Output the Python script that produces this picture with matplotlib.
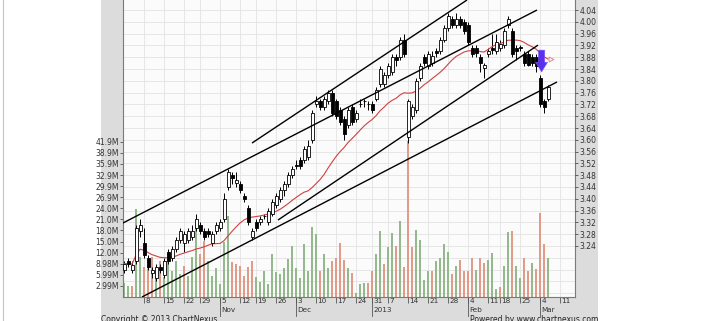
import numpy as np
import pandas as pd
import matplotlib
matplotlib.use("Agg")
import matplotlib.pyplot as plt
from matplotlib.patches import Rectangle
from matplotlib.lines import Line2D
from matplotlib.transforms import blended_transform_factory, ScaledTranslation

# daily bars, one row per week (SGX sessions, 1 Oct 2012 - 6 Mar 2013)
opens = [3.16,
         3.19, 3.16, 3.19, 3.29, 3.25,
         3.20, 3.15, 3.13, 3.17, 3.14,
         3.22, 3.20, 3.23, 3.26, 3.25,
         3.26, 3.27, 3.30, 3.31, 3.29,
         3.29, 3.25, 3.29,
         3.30, 3.33, 3.44, 3.48, 3.455,
         3.45, 3.41, 3.37, 3.27, 3.32,
         3.32, 3.34, 3.32, 3.35,
         3.38, 3.40, 3.43, 3.45, 3.48,
         3.51, 3.53, 3.53, 3.54, 3.60,
         3.72, 3.73, 3.71, 3.73, 3.76,
         3.73, 3.70, 3.67, 3.65, 3.71,
         3.67, 3.72, 3.73, 3.72,
         3.72, 3.74, 3.79, 3.79,
         3.82, 3.83, 3.88, 3.88, 3.94,
         3.61, 3.68, 3.70, 3.81, 3.88,
         3.85, 3.86, 3.90, 3.90,
         3.94, 3.98, 4.01, 3.99, 4.01,
         4.00, 3.99, 3.91, 3.91, 3.88,
         3.845, 3.89, 3.91, 3.90, 3.91,
         3.92, 3.99, 3.97, 3.91,
         3.91, 3.89, 3.89, 3.88, 3.88,
         3.81, 3.73, 3.74]
highs = [3.19,
         3.20, 3.19, 3.31, 3.33, 3.30,
         3.21, 3.17, 3.18, 3.18, 3.20,
         3.23, 3.24, 3.27, 3.30, 3.29,
         3.30, 3.31, 3.35, 3.32, 3.30,
         3.30, 3.29, 3.32,
         3.33, 3.42, 3.50, 3.49, 3.49,
         3.46, 3.42, 3.38, 3.30, 3.33,
         3.34, 3.35, 3.37, 3.40,
         3.42, 3.44, 3.46, 3.49, 3.51,
         3.53, 3.54, 3.58, 3.60, 3.70,
         3.75, 3.74, 3.75, 3.77, 3.77,
         3.74, 3.71, 3.68, 3.71, 3.72,
         3.70, 3.74, 3.74, 3.73,
         3.73, 3.78, 3.85, 3.83,
         3.86, 3.89, 3.89, 3.95, 3.96,
         3.74, 3.72, 3.81, 3.86, 3.89,
         3.90, 3.90, 3.91, 3.95,
         3.99, 4.03, 4.02, 4.03, 4.02,
         4.01, 4.00, 3.92, 3.92, 3.89,
         3.86, 3.91, 3.96, 3.96, 3.94,
         3.98, 4.02, 3.98, 3.92,
         3.92, 3.90, 3.90, 3.89, 3.89,
         3.82, 3.74, 3.785]
lows = [3.15,
        3.17, 3.15, 3.18, 3.27, 3.20,
        3.16, 3.13, 3.12, 3.15, 3.13,
        3.18, 3.19, 3.22, 3.25, 3.22,
        3.25, 3.26, 3.29, 3.28, 3.26,
        3.27, 3.24, 3.28,
        3.29, 3.32, 3.43, 3.45, 3.44,
        3.42, 3.39, 3.31, 3.26, 3.29,
        3.31, 3.33, 3.31, 3.34,
        3.37, 3.39, 3.41, 3.44, 3.47,
        3.50, 3.50, 3.52, 3.53, 3.59,
        3.71, 3.70, 3.70, 3.72, 3.68,
        3.67, 3.65, 3.60, 3.64, 3.65,
        3.66, 3.71, 3.71, 3.70,
        3.69, 3.73, 3.78, 3.78,
        3.81, 3.82, 3.85, 3.87, 3.88,
        3.59, 3.67, 3.69, 3.80, 3.85,
        3.84, 3.85, 3.88, 3.89,
        3.93, 3.97, 3.98, 3.98, 3.98,
        3.96, 3.92, 3.88, 3.88, 3.83,
        3.81, 3.88, 3.89, 3.89, 3.90,
        3.91, 3.98, 3.88, 3.87,
        3.90, 3.85, 3.85, 3.85, 3.83,
        3.71, 3.69, 3.73]
closes = [3.18,
          3.18, 3.175, 3.30, 3.31, 3.21,
          3.17, 3.16, 3.17, 3.16, 3.19,
          3.19, 3.23, 3.26, 3.29, 3.28,
          3.29, 3.29, 3.33, 3.29, 3.27,
          3.28, 3.28, 3.31,
          3.32, 3.40, 3.49, 3.47, 3.465,
          3.43, 3.40, 3.32, 3.29, 3.30,
          3.33, 3.34, 3.36, 3.39,
          3.41, 3.43, 3.45, 3.48, 3.50,
          3.51, 3.51, 3.57, 3.58, 3.69,
          3.73, 3.71, 3.74, 3.76, 3.69,
          3.68, 3.66, 3.62, 3.70, 3.66,
          3.69, 3.72, 3.73, 3.72,
          3.70, 3.77, 3.84, 3.82,
          3.85, 3.88, 3.87, 3.94, 3.89,
          3.73, 3.71, 3.80, 3.85, 3.86,
          3.89, 3.885, 3.895, 3.94,
          3.98, 4.02, 3.99, 4.01, 3.99,
          3.97, 3.93, 3.89, 3.895, 3.86,
          3.855, 3.90, 3.905, 3.93, 3.925,
          3.97, 4.01, 3.89, 3.90,
          3.91, 3.86, 3.855, 3.86, 3.85,
          3.72, 3.71, 3.78]
volumes_m = [3.7,
             3.1, 3.1, 23.8, 10.7, 8.0,
             8.5, 10.7, 6.7, 9.8, 5.3,
             12.0, 7.1, 9.8, 6.3, 8.5,
             5.8, 10.7, 20.6, 11.7, 15.2,
             9.8, 5.8, 7.7,
             3.6, 14.8, 22.0, 9.4, 9.0,
             8.5, 5.8, 8.0, 9.8, 5.3,
             4.0, 7.1, 3.6, 11.5,
             6.7, 6.3, 7.7, 10.3, 13.9,
             7.7, 5.0, 14.4, 7.1, 19.0,
             16.9, 7.1, 11.5, 7.8, 9.6,
             10.4, 14.5, 10.0, 7.8, 6.4,
             1.0, 3.4, 3.7, 3.7,
             7.0, 11.6, 17.7, 8.8,
             13.6, 17.2, 13.9, 20.4, 8.2,
             42.0, 13.6, 18.2, 15.4, 4.7,
             7.1, 7.1, 9.7, 10.5,
             14.3, 12.1, 6.3, 8.4, 10.1,
             7.1, 7.0, 10.5, 7.3, 10.6,
             9.1, 10.1, 11.8, 2.2, 2.8,
             8.5, 17.5, 17.7, 8.5,
             5.2, 10.6, 7.1, 9.3, 7.6,
             22.6, 14.3, 10.5]

# exchange holidays inside the window
holidays = ["2012-10-26", "2012-11-13", "2012-12-25", "2013-01-01",
            "2013-02-11", "2013-02-12"]
month_labels = {"2012-11-05": "Nov", "2012-12-03": "Dec", "2012-12-31": "2013",
                "2013-02-04": "Feb", "2013-03-04": "Mar"}
price_ticks = [3.24, 3.28, 3.32, 3.36, 3.40, 3.44, 3.48, 3.52, 3.56, 3.60, 3.64,
               3.68, 3.72, 3.76, 3.80, 3.84, 3.88, 3.92, 3.96, 4.00, 4.04]
grid_prices = [3.08, 3.12, 3.16, 3.20] + price_ticks
vol_tick_labels = ["2.99M", "5.99M", "8.98M", "12.0M", "15.0M", "18.0M", "21.0M",
                   "24.0M", "26.9M", "29.9M", "32.9M", "35.9M", "38.9M", "41.9M"]
vol_step_m = 2.994

# hand drawn trend lines: (bar start, price start, bar end, price end)
trend_lines = [(-0.25, 3.318, 103.25, 4.040),
               (32.0, 3.589, 85.75, 4.074),
               (38.5, 3.328, 103.5, 3.921),
               (4.5, 3.067, 108.25, 3.796)]
signal_arrow = (104.4, 3.904, 3.830)

price_lim = (3.067, 4.074)
vol_max_m = 80.2
x_lim = (-0.25, 112.75)

W, H = 705, 321
plt.rcParams["font.family"] = ["DejaVu Sans"]
fig = plt.figure(figsize=(W / 100, H / 100), dpi=100)
fig.patch.set_facecolor("white")

# grey frame round the chart
fig.add_artist(Rectangle((101 / W, 0), (598 - 101) / W, 1, transform=fig.transFigure,
                         facecolor="#dcdcdc", edgecolor="none", zorder=0))
fig.add_artist(Line2D([2.5 / W, 2.5 / W], [0, 1], transform=fig.transFigure,
                      color="#c4c4c4", lw=0.8))

ax_v = fig.add_axes([123 / W, 24 / H, 452 / W, 297 / H])
ax_v.set_facecolor("#fbfbfb")
ax_p = ax_v.twinx()

o = np.array(opens)
h = np.array(highs)
l = np.array(lows)
c = np.array(closes)
v = np.array(volumes_m)
pos = np.arange(len(c))

sessions = pd.bdate_range("2012-10-01", "2013-03-15")
sessions = sessions[~sessions.isin(pd.to_datetime(holidays))]
week_start = sessions - pd.to_timedelta(sessions.weekday, unit="D")
first_of_week = ~week_start.duplicated()
tick_pos = np.flatnonzero(first_of_week)
tick_monday = week_start[first_of_week]
keep = tick_monday >= pd.Timestamp("2012-10-08")
tick_pos = tick_pos[keep]
tick_monday = tick_monday[keep]

# volume
prev = np.concatenate([[o[0]], c[:-1]])
vol_colors = np.where(c >= prev, "#93b98c", "#e09c88")
ax_v.bar(pos, v, width=0.55, color=vol_colors, zorder=2)
ax_v.set_ylim(0, vol_max_m)
ax_v.set_xlim(*x_lim)
ax_v.set_yticks(vol_step_m * np.arange(1, len(vol_tick_labels) + 1))
ax_v.set_yticklabels(vol_tick_labels)

grid_c = "#e2e2e2"
for gp in grid_prices:
    ax_v.axhline((gp - price_lim[0]) / (price_lim[1] - price_lim[0]) * vol_max_m,
                 color=grid_c, lw=0.6, zorder=0)
ax_v.set_xticks(tick_pos)
ax_v.set_xticklabels([])
ax_v.grid(axis="x", color=grid_c, lw=0.6)
ax_v.set_axisbelow(True)

# candles
ax_p.vlines(pos, l, h, color="black", lw=0.7, zorder=3)
body_lo = np.minimum(o, c)
body_h = np.maximum(np.abs(c - o), 0.003)
ax_p.bar(pos, body_h, bottom=body_lo, width=0.75,
         color=np.where(c > o, "white", "black"), edgecolor="black", lw=0.6, zorder=4)

ma = pd.Series(c).rolling(20, min_periods=1).mean()
ax_p.plot(pos, ma, color="#d04040", lw=0.8, zorder=3)
ax_p.plot(pos[-1] + 0.7, ma.iloc[-1], marker=">", ms=3.5, mfc="none", mec="#e08a8a",
          mew=0.7, zorder=5)

for x0, y0, x1, y1 in trend_lines:
    ax_p.plot([x0, x1], [y0, y1], color="black", lw=1.0, zorder=5, solid_capstyle="butt")

ax_p.annotate("", xy=(signal_arrow[0], signal_arrow[2]),
              xytext=(signal_arrow[0], signal_arrow[1]),
              arrowprops=dict(arrowstyle="simple,head_length=0.7,head_width=0.85,tail_width=0.45",
                              fc="#5a2ff0", ec="#7a5af5", lw=0.4, shrinkA=0, shrinkB=0,
                              mutation_scale=10), zorder=6)

ax_p.set_ylim(*price_lim)
ax_p.set_xlim(*x_lim)
ax_p.set_yticks(price_ticks)
ax_p.set_yticklabels([f"{t:.2f}" for t in price_ticks])

fs = 5.5
txt_c = "#333333"
for a in (ax_v, ax_p):
    for s in a.spines.values():
        s.set_visible(False)
for s in ("left", "right", "bottom"):
    ax_v.spines[s].set_visible(True)
    ax_v.spines[s].set_color("#7a7a7a")
    ax_v.spines[s].set_linewidth(0.8)

ax_v.tick_params(axis="y", length=2, width=0.5, pad=1, labelsize=fs, colors=txt_c)
ax_p.tick_params(axis="y", length=2, width=0.5, pad=1, labelsize=fs, colors=txt_c)
ax_v.tick_params(axis="x", length=4.5, width=0.6, color="#555555")

# date labels sit to the right of each tick
fs_x = 5.2
trans = blended_transform_factory(ax_v.transData, ax_v.transAxes)
shift = ScaledTranslation(1.5 / 100, 0, fig.dpi_scale_trans)
for p, mon in zip(tick_pos, tick_monday):
    ax_v.text(p, -0.004, str(mon.day), transform=trans + shift, ha="left", va="top",
              fontsize=fs_x, color=txt_c)
    key = mon.strftime("%Y-%m-%d")
    if key in month_labels:
        ax_v.plot([p, p], [0, -0.065], transform=trans, color="#555555", lw=0.6,
                  clip_on=False)
        ax_v.text(p, -0.034, month_labels[key], transform=trans + shift, ha="left",
                  va="top", fontsize=fs_x, color=txt_c)

# footer, partly below the bottom edge as in the source page
fig.text(101 / W, 5.5 / H, "Copyright \u00a9 2013 ChartNexus", ha="left", va="top",
         fontsize=5.5, color="#222222")
fig.text(598 / W, 5.5 / H, "Powered by www.chartnexus.com", ha="right", va="top",
         fontsize=5.5, color="#222222")

fig.savefig("out.png", dpi=100)
